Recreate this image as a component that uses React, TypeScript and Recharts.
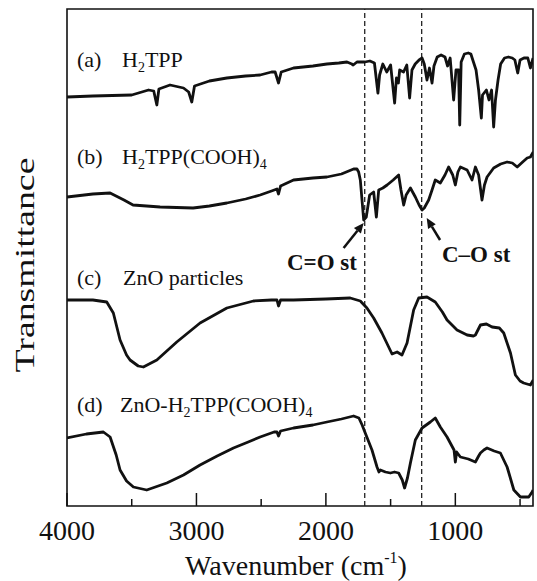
import { LineChart, Line, XAxis, YAxis, ReferenceLine, ReferenceArea } from 'recharts';

const FONT = '"Liberation Serif", "DejaVu Serif", "Times New Roman", serif';
const INK = '#111';

// (a) H2TPP : wavenumber (cm-1) and offset transmittance (arb.)
const wnA = [4000, 3800, 3500, 3370, 3330, 3306, 3290, 3204, 3100, 3060, 3036, 3015, 2900, 2765, 2620, 2508, 2420, 2392, 2366, 2345, 2250, 2100, 1992, 1900, 1837, 1800, 1789, 1760, 1734, 1700, 1660, 1625, 1598, 1585, 1560, 1530, 1500, 1469, 1455, 1440, 1430, 1400, 1375, 1353, 1335, 1310, 1280, 1257, 1240, 1219, 1200, 1180, 1165, 1140, 1110, 1080, 1060, 1040, 1013, 995, 975, 966, 955, 930, 900, 880, 860, 840, 820, 799, 790, 760, 740, 720, 704, 690, 670, 650, 620, 590, 560, 540, 518, 500, 470, 440, 420, 400];
const trA = [409, 410, 411, 416, 415, 401, 417, 421, 418, 414, 404, 420, 425, 428, 430, 431, 434, 434, 423, 434, 438, 440, 442, 443, 444, 442, 441, 444, 444, 444, 445, 443, 413, 431, 442, 434, 441, 403, 428, 423, 436, 434, 441, 408, 436, 442, 446, 448, 442, 426, 438, 423, 440, 449, 451, 449, 440, 448, 406, 436, 436, 381, 444, 452, 453, 452, 444, 436, 416, 388, 411, 416, 406, 416, 379, 406, 426, 442, 448, 449, 448, 446, 433, 446, 448, 448, 438, 448];

// (b) H2TPP(COOH)4
const wnB = [4000, 3800, 3667, 3560, 3490, 3281, 3026, 2900, 2765, 2620, 2508, 2420, 2378, 2366, 2350, 2250, 2100, 1992, 1880, 1786, 1760, 1747, 1734, 1708, 1688, 1662, 1631, 1610, 1592, 1560, 1527, 1480, 1438, 1420, 1399, 1380, 1347, 1309, 1280, 1257, 1240, 1206, 1180, 1155, 1116, 1080, 1052, 1020, 1000, 980, 961, 909, 871, 845, 820, 794, 775, 755, 704, 650, 600, 560, 522, 480, 445, 420, 398];
const trB = [309, 312, 313, 306, 301, 299, 298, 300, 303, 307, 311, 315, 317, 312, 320, 326, 328, 329, 332, 337, 337, 334, 326, 286, 289, 311, 314, 289, 316, 318, 321, 326, 331, 316, 301, 311, 318, 309, 301, 296, 298, 306, 316, 326, 323, 331, 339, 331, 321, 334, 339, 336, 326, 339, 331, 306, 321, 329, 338, 342, 344, 343, 339, 344, 348, 349, 354];

// (c) ZnO particles
const wnC = [4000, 3800, 3693, 3642, 3590, 3540, 3513, 3450, 3410, 3306, 3152, 2972, 2765, 2560, 2420, 2378, 2366, 2350, 2250, 2000, 1812, 1734, 1683, 1631, 1567, 1489, 1450, 1412, 1373, 1322, 1283, 1219, 1155, 1100, 1064, 987, 909, 860, 845, 806, 760, 716, 660, 626, 574, 536, 500, 472, 420, 398];
const trC = [206, 206, 204, 193, 166, 151, 146, 140, 139, 146, 164, 183, 198, 205, 206, 206, 200, 206, 206, 207, 208, 205, 198, 188, 173, 152, 154, 151, 163, 196, 208, 209, 204, 194, 186, 176, 171, 170, 171, 181, 182, 179, 178, 173, 153, 131, 125, 123, 121, 126];

// (d) ZnO-H2TPP(COOH)4
const wnD = [4000, 3850, 3719, 3667, 3620, 3590, 3540, 3487, 3384, 3229, 3100, 2972, 2840, 2714, 2600, 2508, 2400, 2378, 2366, 2350, 2250, 2100, 1992, 1880, 1786, 1745, 1720, 1696, 1644, 1605, 1590, 1579, 1540, 1502, 1470, 1438, 1410, 1392, 1370, 1347, 1309, 1257, 1193, 1155, 1116, 1064, 1010, 1000, 990, 961, 900, 845, 820, 806, 780, 755, 700, 652, 600, 548, 497, 433, 407, 400];
const trD = [68, 72, 74, 69, 51, 36, 25, 19, 16, 23, 31, 41, 50, 58, 64, 69, 74, 74, 70, 75, 78, 81, 84, 87, 90, 88, 81, 73, 56, 39, 34, 36, 34, 33, 34, 33, 26, 18, 28, 43, 66, 78, 84, 88, 79, 69, 56, 44, 54, 49, 47, 44, 50, 53, 56, 58, 55, 53, 39, 16, 9, 9, 14, 16];

const xTicks = [4000, 3500, 3000, 2500, 2000, 1500, 1000, 500];
const labelledTicks = [4000, 3000, 2000, 1000];
const markerLines = [1700, 1260];

const zip = (wn: number[], tr: number[]) => wn.map((w, i) => ({ wn: w, tr: tr[i] }));
const series = [zip(wnA, trA), zip(wnB, trB), zip(wnC, trC), zip(wnD, trD)];

function WnTick({ x, y, payload }: any) {
  const major = labelledTicks.includes(payload.value);
  return (
    <g>
      <line x1={x} x2={x} y1={y} y2={y - (major ? 13 : 7)} stroke={INK} strokeWidth={1.5} />
      {major && (
        <text x={x} y={y + 34} textAnchor="middle" fontFamily={FONT} fontSize={28} fill={INK}>
          {payload.value}
        </text>
      )}
    </g>
  );
}

function Arrow({ x1, y1, x2, y2 }: any) {
  const ang = Math.atan2(y2 - y1, x2 - x1);
  const len = 10, half = 4.5;
  const bx = x2 - len * Math.cos(ang);
  const by = y2 - len * Math.sin(ang);
  const px = -Math.sin(ang) * half;
  const py = Math.cos(ang) * half;
  return (
    <g>
      <line x1={x1} y1={y1} x2={bx} y2={by} stroke={INK} strokeWidth={2.5} />
      <polygon points={`${x2},${y2} ${bx + px},${by + py} ${bx - px},${by - py}`} fill={INK} />
    </g>
  );
}

export default function App() {
  return (
    <div style={{ position: 'absolute', left: 0, top: 0, width: 537, height: 581, background: '#fff' }}>
      <LineChart width={537} height={581} margin={{ top: 9, right: 4, bottom: 45, left: 67 }}>
        <XAxis
          type="number"
          dataKey="wn"
          domain={[400, 4000]}
          reversed
          allowDataOverflow
          ticks={xTicks}
          tick={<WnTick />}
          tickLine={false}
          tickSize={0}
          tickMargin={0}
          axisLine={false}
          height={30}
        />
        <YAxis type="number" dataKey="tr" domain={[0, 497]} hide allowDataOverflow />
        <ReferenceArea x1={4000} x2={400} y1={0} y2={497} fill="none" stroke={INK} strokeWidth={1.6} />
        {markerLines.map((w) => (
          <ReferenceLine key={w} x={w} stroke="#222" strokeWidth={1.3} strokeDasharray="5 3" />
        ))}
        {series.map((d, i) => (
          <Line
            key={i}
            data={d}
            dataKey="tr"
            type="linear"
            stroke={INK}
            strokeWidth={2.8}
            strokeLinejoin="round"
            dot={false}
            isAnimationActive={false}
          />
        ))}
        <ReferenceLine segment={[{ x: 1863, y: 258 }, { x: 1708, y: 283 }]} shape={<Arrow />} />
        <ReferenceLine segment={[{ x: 1118, y: 266 }, { x: 1221, y: 288 }]} shape={<Arrow />} />
      </LineChart>
      <svg
        width={537}
        height={581}
        style={{ position: 'absolute', left: 0, top: 0, pointerEvents: 'none' }}
        fontFamily={FONT}
        fill={INK}
      >
        <text x={77} y={67} fontSize={22}>
          (a)<tspan x={122}>H</tspan>
          <tspan fontSize={14} dy={5}>2</tspan>
          <tspan dy={-5}>TPP</tspan>
        </text>
        <text x={77} y={164} fontSize={22}>
          (b)<tspan x={122}>H</tspan>
          <tspan fontSize={14} dy={5}>2</tspan>
          <tspan dy={-5}>TPP(COOH)</tspan>
          <tspan fontSize={14} dy={5}>4</tspan>
        </text>
        <text x={77} y={285} fontSize={22}>
          (c)<tspan x={123}>ZnO particles</tspan>
        </text>
        <text x={77} y={412} fontSize={22}>
          (d)<tspan x={120}>ZnO-H</tspan>
          <tspan fontSize={14} dy={5}>2</tspan>
          <tspan dy={-5}>TPP(COOH)</tspan>
          <tspan fontSize={14} dy={5}>4</tspan>
        </text>
        <text x={287} y={270} fontSize={23} fontWeight="bold">C=O st</text>
        <text x={442} y={262} fontSize={23} fontWeight="bold">C–O st</text>
        <text
          x={0}
          y={0}
          fontSize={28}
          textAnchor="middle"
          transform="translate(34 265) rotate(-90) scale(1.35 1)"
        >
          Transmittance
        </text>
        <text x={296} y={575} fontSize={28} textAnchor="middle">
          Wavenumber (cm<tspan fontSize={16} dy={-12}>-1</tspan>
          <tspan dy={12}>)</tspan>
        </text>
      </svg>
    </div>
  );
}
